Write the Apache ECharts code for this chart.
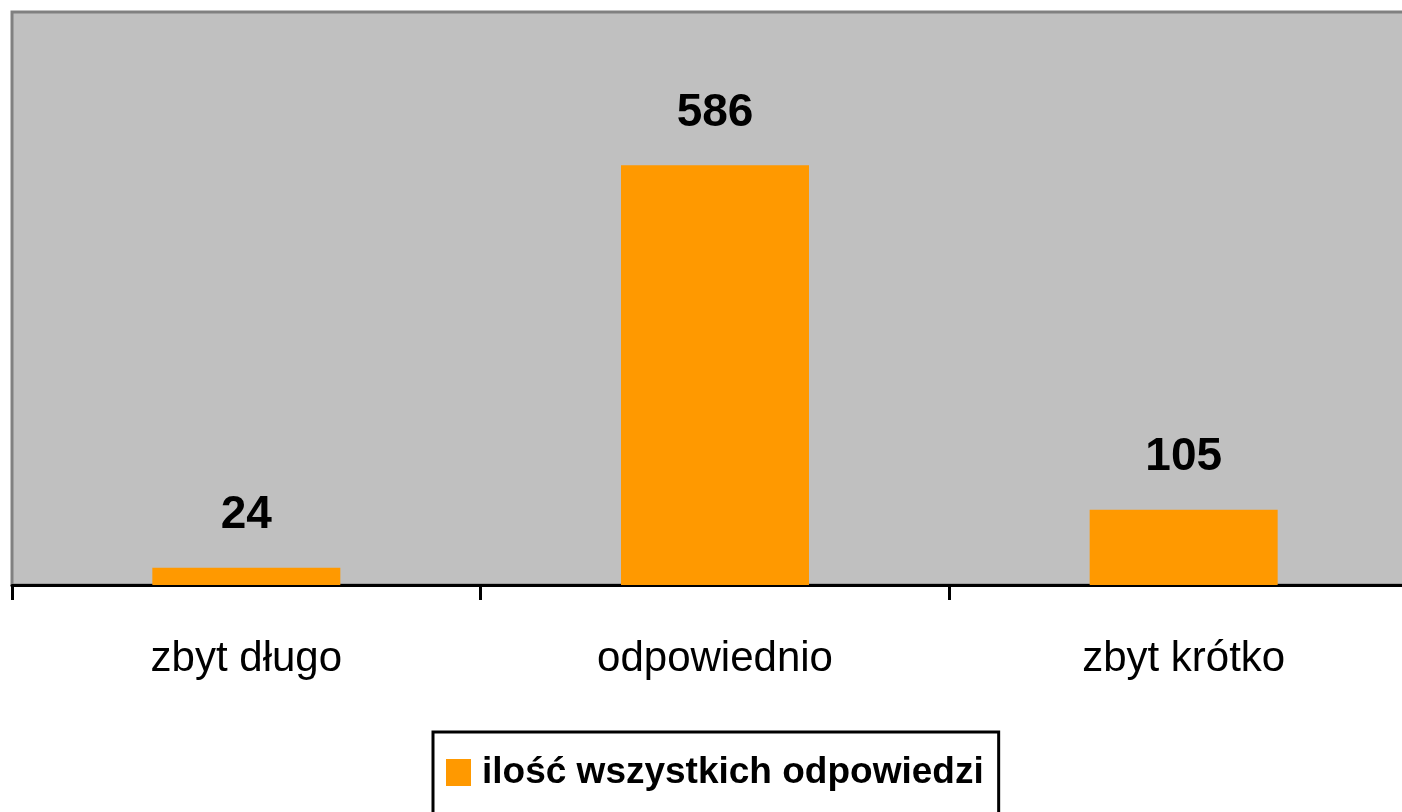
<!DOCTYPE html>
<html>
<head>
<meta charset="utf-8">
<script src="https://cdn.jsdelivr.net/npm/echarts@6/dist/echarts.min.js"></script>
<style>
html,body{margin:0;padding:0;background:#fff;}
#chart{width:1402px;height:812px;}
</style>
</head>
<body>
<div id="chart"></div>
<script>
const categories = ['zbyt długo', 'odpowiednio', 'zbyt krótko'];
const seriesName = 'ilość wszystkich odpowiedzi';
const values = [24, 586, 105];

const sans = '"Liberation Sans", Arial, sans-serif';
const chart = echarts.init(document.getElementById('chart'));
chart.setOption({
  backgroundColor: '#ffffff',
  animation: false,
  grid: {
    left: 12, top: 12, width: 1406, height: 573,
    outerBoundsMode: 'none',
    containLabel: false,
    show: true, backgroundColor: '#C0C0C0',
    borderColor: '#808080', borderWidth: 3
  },
  legend: {
    data: [seriesName],
    left: 433, top: 732,
    orient: 'horizontal',
    borderColor: '#000000', borderWidth: 3,
    backgroundColor: '#ffffff',
    padding: [22, 15, 30, 13],
    itemWidth: 25, itemHeight: 27, itemGap: 10,
    icon: 'rect',
    textStyle: {
      fontFamily: sans, fontWeight: 'bold', fontSize: 37, color: '#000000',
      padding: [0, 0, 0, 6]
    }
  },
  xAxis: {
    type: 'category',
    data: categories,
    axisLine: { show: true, lineStyle: { color: '#000000', width: 3 } },
    axisTick: { show: true, alignWithLabel: false, length: 15, lineStyle: { color: '#000000', width: 3 } },
    axisLabel: {
      fontFamily: sans,
      fontSize: 42, color: '#000000', margin: 53
    },
    splitLine: { show: false }
  },
  yAxis: {
    type: 'value', min: 0, max: 800, show: false,
    splitLine: { show: false }
  },
  series: [{
    name: seriesName,
    type: 'bar',
    data: values,
    barWidth: 188,
    itemStyle: { color: '#FF9900' },
    label: {
      show: true, position: 'top', distance: 29,
      fontFamily: sans, fontWeight: 'bold', fontSize: 46, color: '#000000'
    }
  }]
});
</script>
</body>
</html>
